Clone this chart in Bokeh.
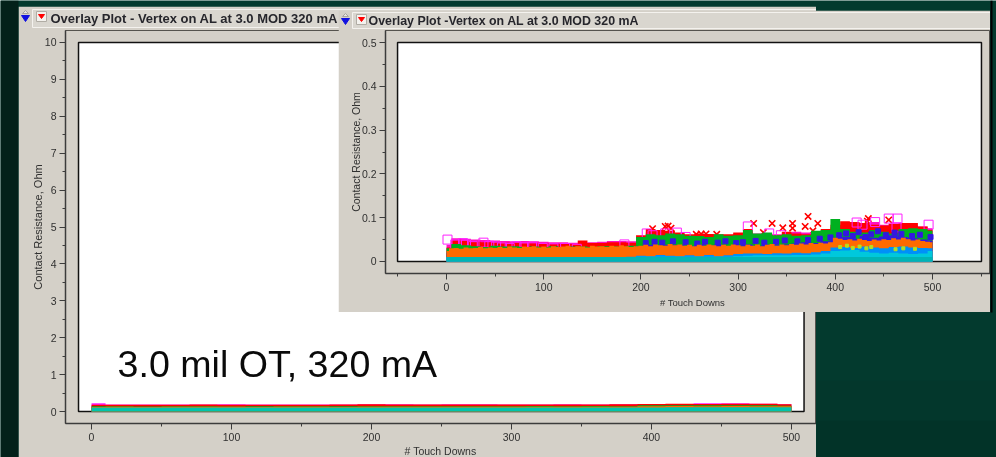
from bokeh.core.properties import value
from bokeh.embed import file_html
from bokeh.models import ColumnDataSource, FixedTicker, Label, Range1d
from bokeh.plotting import figure
from bokeh.resources import INLINE

# ---------- data ----------
TD10 = list(range(0, 510, 10))
TD5 = list(range(0, 505, 5))
TD20 = list(range(0, 520, 20))

r_teal = [.010] * 51
r_cyan = [.010,.010,.010,.010,.010,.010,.010,.010,.010,.010,
          .010,.010,.010,.010,.010,.010,.010,.010,.010,.010,
          .011,.011,.011,.011,.011,.011,.011,.011,.011,.011,
          .012,.013,.014,.014,.014,.014,.015,.015,.016,.018,
          .024,.025,.026,.022,.020,.018,.020,.018,.017,.018,.024]
r_azure = [.010,.010,.010,.010,.010,.010,.010,.010,.010,.010,
           .010,.010,.010,.010,.010,.010,.010,.010,.010,.011,
           .013,.012,.015,.013,.012,.014,.012,.015,.012,.014,
           .017,.018,.018,.017,.019,.018,.020,.019,.021,.024,
           .032,.033,.031,.034,.032,.030,.033,.034,.032,.031,.030]
r_orange = [.024,.030,.031,.029,.032,.030,.031,.033,.030,.032,
            .031,.033,.031,.034,.032,.031,.034,.033,.035,.032,
            .034,.032,.035,.033,.034,.036,.033,.035,.034,.032,
            .036,.034,.035,.033,.036,.034,.037,.035,.033,.035,
            .036,.038,.035,.039,.037,.036,.040,.037,.039,.036,
            .038,.035,.038,.036,.039,.037,.035,.038,.036,.039,
            .037,.035,.038,.036,.039,.035,.038,.040,.036,.039,
            .037,.040,.038,.041,.039,.042,.040,.043,.041,.044,
            .054,.052,.049,.051,.048,.052,.049,.047,.050,.048,
            .051,.049,.053,.050,.054,.051,.048,.050,.047,.045,.044]
r_blue = [.020,.022,.022,.020,.021,.023,.020,.024,.022,.021,
          .023,.024,.021,.023,.022,.024,.022,.023,.024,.033,
          .035,.038,.036,.038,.037,.035,.039,.036,.038,.035,
          .037,.039,.036,.038,.037,.039,.041,.044,.042,.046,
          .054,.056,.052,.058,.054,.057,.060,.056,.053,.050,.048]
r_green = [.030,.040,.037,.035,.033,.036,.034,.035,.033,.034,
           .033,.035,.033,.034,.034,.033,.035,.035,.034,.036,
           .056,.062,.060,.064,.062,.059,.058,.056,.062,.059,
           .060,.072,.064,.066,.060,.062,.059,.060,.070,.072,
           .097,.074,.068,.066,.072,.068,.064,.074,.076,.074,.070]
r_red = [.032,.048,.047,.045,.044,.044,.043,.042,.042,.041,
         .041,.040,.040,.040,.048,.042,.042,.044,.044,.043,
         .060,.074,.072,.070,.066,.062,.064,.063,.062,.062,
         .066,.074,.062,.064,.060,.068,.064,.062,.068,.074,
         .084,.092,.090,.088,.084,.082,.086,.088,.088,.080,.074]
r_pink = [.038,.053,.052,.050,.049,.048,.047,.046,.047,.046,
          .045,.044,.044,.043,.043,.044,.045,.047,.047,.046,
          .056,.066,.066,.064,.060,.060,.062,.062,.060,.060,
          .064,.068,.064,.062,.062,.066,.068,.066,.068,.070,
          .078,.080,.086,.088,.090,.084,.086,.084,.082,.080,.076]
blue_td = [205,214,222,233,246,258,266,279,287,298,305,318,327,339,348,361,372,384,395,404,411,418,424,431,437,444,452,461,468,479,487,498]
blue_val = [.042,.045,.043,.046,.044,.041,.045,.043,.046,.042,.044,.047,.043,.045,.048,.046,.049,.052,.055,.060,.064,.058,.067,.056,.062,.069,.060,.066,.063,.058,.061,.056]
sq_td = [1,9,17,20,27,38,44,51,57,65,72,80,88,99,110,122,134,183,206,212,225,237,246,310,332,344,422,428,441,455,464,463,496]
sq_val = [.050,.039,.042,.039,.035,.043,.036,.034,.032,.031,.035,.032,.034,.031,.030,.031,.029,.039,.064,.060,.064,.066,.056,.080,.064,.060,.089,.084,.090,.098,.098,.078,.084]
x_td = [212,225,228,231,257,262,267,278,316,326,335,346,356,356,369,372,377,382,433,434,455]
x_val = [.075,.080,.081,.076,.062,.063,.063,.062,.087,.066,.087,.077,.087,.076,.080,.103,.070,.087,.092,.098,.095]
lime_td = [405,412,418,425,432,437,462,470,482]
lime_val = [.033,.036,.031,.034,.030,.033,.028,.030,.029]

l_teal = [.110,.110,.110,.110,.110,.110,.110,.110,.110,.110,.110,.110,.110,
          .110,.110,.110,.110,.110,.110,.110,.110,.112,.112,.112,.112,.112]
l_orange = [.125,.127,.125,.128,.126,.127,.125,.128,.127,.125,.130,.128,.129,
            .127,.129,.128,.130,.129,.128,.130,.145,.147,.143,.146,.145,.141]
l_green = [.140,.141,.139,.142,.140,.139,.141,.140,.142,.140,.145,.143,.144,
           .142,.145,.143,.146,.144,.147,.145,.170,.167,.169,.171,.170,.155]
l_red = [.185,.180,.185,.183,.187,.185,.183,.186,.185,.187,.196,.190,.188,
         .192,.188,.190,.188,.191,.188,.194,.205,.208,.206,.210,.208,.195]
l_pink = [.225,.192,.188,.192,.190,.194,.188,.192,.190,.192,.194,.196,.192,
          .194,.198,.192,.190,.194,.192,.196,.198,.204,.222,.226,.210,.195]

x_ticks = [0, 100, 200, 300, 400, 500]
x_minor = [-50, 50, 150, 250, 350, 450, 550]
left_y_ticks = [0, 1, 2, 3, 4, 5, 6, 7, 8, 9, 10]
left_y_minor = [.5, 1.5, 2.5, 3.5, 4.5, 5.5, 6.5, 7.5, 8.5, 9.5]
right_y_ticks = [0, .1, .2, .3, .4, .5]
right_y_minor = [.05, .15, .25, .35, .45]
y_label = "Contact Resistance, Ohm"
x_label = "# Touch Downs"
left_title = "Overlay Plot - Vertex on AL at 3.0 MOD 320 mA"
right_title = "Overlay Plot -Vertex on AL at 3.0 MOD 320 mA"
note = "3.0 mil OT, 320 mA"

# ---------- styles ----------
PANEL = "#d4d0c8"
FONT = "Liberation Sans"
TEAL, CYAN, AZURE = "#00b4b4", "#00c8dc", "#0090f8"
ORANGE, BLUE, GREEN, RED, PINK = "#ff6a00", "#3418e0", "#00b020", "#ff0000", "#ff00a0"
MAGENTA = "#ff20ff"


def pin(fig, left, top):
    fig.styles = {"position": "fixed", "left": f"{left}px", "top": f"{top}px"}


def chrome(left, top, width, height, bx, y0, bar_h, title, tx, tsize, lx, ly, lsize):
    """Transparent layer over a plot: title bar, its two arrows and the x label, in page pixels."""
    c = figure(width=width, height=height, x_range=Range1d(0, width), y_range=Range1d(height, 0),
               output_backend="svg", toolbar_location=None, min_border=0, outline_line_color=None,
               border_fill_alpha=0, background_fill_alpha=0)
    c.axis.visible = False
    c.grid.visible = False
    c.patch([bx, width + 5, width + 5, bx], [y0, y0, y0 + bar_h, y0 + bar_h],
            fill_color="#d9d6cf", line_color="#f4f2ee")
    c.text([tx], [y0 + bar_h / 2], text=[title], text_font=value(FONT), text_font_size=tsize,
           text_font_style="bold", text_color="#26262c", text_baseline="middle")
    ax = bx - 7
    c.patch([ax - 4, ax + 4, ax], [y0 + 6, y0 + 6, y0 + 12], fill_color="#1010e0", line_color="#1010e0")
    c.patch([ax - 3, ax + 3, ax], [y0 + 4, y0 + 4, y0 + 1], fill_color="#e8e6e0", line_color="#a8a4a0")
    c.patch([bx + 4, bx + 14, bx + 14, bx + 4], [y0 + 2, y0 + 2, y0 + 12, y0 + 12],
            fill_color="#f4f2ee", line_color="#b0aca4")
    c.patch([bx + 6, bx + 12, bx + 9], [y0 + 5, y0 + 5, y0 + 9], fill_color="#ff0000", line_color="#ff0000")
    c.text([lx], [ly], text=[x_label], text_font=value(FONT), text_font_size=lsize, text_color="#303030",
           text_align="center", text_baseline="middle")
    pin(c, left, top)
    return c


def panel(width, height, left, top, bottom, xr, yr, yticks, yminor, ylabel_size, ystand):
    p = figure(width=width, height=height, x_range=Range1d(*xr), y_range=Range1d(*yr),
               output_backend="svg", toolbar_location=None,
               min_border_left=left, min_border_right=0, min_border_top=top, min_border_bottom=bottom,
               border_fill_color=PANEL, background_fill_color=PANEL,
               outline_line_color="#55534e", outline_line_width=1)
    p.grid.visible = False
    p.xaxis.ticker = FixedTicker(ticks=x_ticks, minor_ticks=x_minor)
    p.yaxis.ticker = FixedTicker(ticks=yticks, minor_ticks=yminor)
    for ax in (p.xaxis[0], p.yaxis[0]):
        ax.axis_line_color = "#3c3c3c"
        ax.axis_line_width = 1.5
        ax.major_tick_line_color = "#3c3c3c"
        ax.minor_tick_line_color = "#3c3c3c"
        ax.major_tick_in = 0
        ax.major_tick_out = 6
        ax.minor_tick_in = 0
        ax.minor_tick_out = 3
        ax.major_label_text_font = FONT
        ax.major_label_text_font_size = "10.5px"
        ax.major_label_text_color = "#303030"
        ax.major_label_standoff = 3
    p.yaxis.axis_label = y_label
    p.yaxis.axis_label_text_font = FONT
    p.yaxis.axis_label_text_font_size = ylabel_size
    p.yaxis.axis_label_text_font_style = "normal"
    p.yaxis.axis_label_text_color = "#303030"
    p.yaxis.axis_label_standoff = ystand
    return p


def band(p, x, top, color):
    src = ColumnDataSource({"x": x, "top": top, "base": [0] * len(x)})
    p.varea_step(x="x", y1="base", y2="top", source=src, fill_color=color, step_mode="center")


# ---------- page background ----------
bg = figure(width=996, height=457, x_range=Range1d(0, 996), y_range=Range1d(457, 0),
            output_backend="svg", toolbar_location=None, min_border=0,
            border_fill_color="#033a2e", background_fill_color="#033a2e", outline_line_color=None)
bg.axis.visible = False
bg.grid.visible = False
bg.quad(left=0, right=18, top=0, bottom=457, fill_color="#03211a", line_color=None)
bg.quad(left=816, right=996, top=380, bottom=420, fill_color="#03372c", line_color=None)
bg.quad(left=816, right=996, top=420, bottom=457, fill_color="#023328", line_color=None)
bg.quad(left=990, right=992, top=0, bottom=312, fill_color="#000000", line_color=None)
pin(bg, 0, 0)

# ---------- left plot ----------
lp = panel(798, 451, 47, 24, 34, (-18.6, 517.9), (-0.325, 10.325),
           left_y_ticks, left_y_minor, "11px", -2)
lp.quad(left=-9.3, right=509, bottom=0, top=10, fill_color="white", line_color="#111111", line_width=1.5)
band(lp, TD20, l_pink, MAGENTA)
band(lp, TD20, l_red, RED)
band(lp, TD20, l_green, GREEN)
band(lp, TD20, l_orange, ORANGE)
band(lp, TD20, l_teal, "#00c4ac")
lp.add_layout(Label(x=18.6, y=1.29, text=note, text_font=FONT, text_font_size="37.6px", text_color="#0a0a0a",
                    text_baseline="middle"))
pin(lp, 18, 6)
lc = chrome(18, 6, 798, 451, 14, 3, 18, left_title, 32, "13px", 422, 444.5, "10.5px")

# ---------- right plot ----------
rp = panel(652, 302, 47, 20, 39, (-62.8, 559.7), (-0.0274, 0.5274),
           right_y_ticks, right_y_minor, "10.5px", -3)
rp.quad(left=-50.4, right=550.4, bottom=0, top=.5, fill_color="white", line_color="#111111", line_width=1.5)
rp.scatter(x_td, x_val, marker="x", size=9, line_color=RED, line_width=1.6)
band(rp, TD10, r_pink, "#ff10c0")
band(rp, TD10, r_red, RED)
rp.scatter(sq_td, sq_val, marker="square", size=9, fill_color=None, line_color=MAGENTA, line_width=1)
band(rp, TD10, r_green, GREEN)
band(rp, TD10, r_blue, BLUE)
rp.scatter(blue_td, blue_val, marker="square", size=5, color=BLUE)
band(rp, TD5, r_orange, ORANGE)
band(rp, TD10, r_azure, AZURE)
rp.scatter(lime_td, lime_val, marker="square", size=3, color="#b4e020")
band(rp, TD10, r_cyan, CYAN)
band(rp, TD10, r_teal, TEAL)
pin(rp, 338, 10)
rc = chrome(338, 10, 652, 302, 14, 2, 16, right_title, 30, "12.4px", 354, 292, "9.5px")

open("out.html", "w").write(file_html([bg, lp, lc, rp, rc], INLINE))
